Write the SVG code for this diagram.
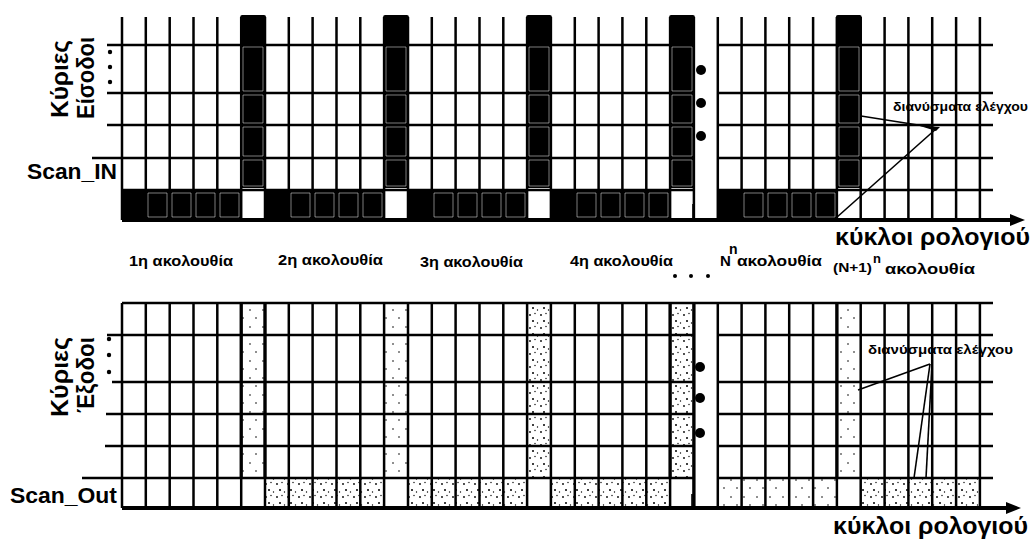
<svg xmlns="http://www.w3.org/2000/svg" width="1032" height="547" viewBox="0 0 1032 547">
<style>
  .t { font-family: "Liberation Sans", Arial, sans-serif; font-weight: bold; fill: #000; }
  .grid { stroke: #000; stroke-width: 2.5; fill: none; }
  .axis { stroke: #000; stroke-width: 4; fill: none; }
  .blk { fill: #000; }
  .inset { fill: none; stroke: #fff; stroke-width: 0.9; stroke-opacity: 0.55; }
  .thin { stroke: #000; stroke-width: 1.6; fill: none; }
  .spk { fill: url(#speck); }
  .spk2 { fill: url(#speck2); }
</style>
<defs>
  <pattern id="speck" width="11" height="13" patternUnits="userSpaceOnUse">
    <rect width="11" height="13" fill="#fff"/>
    <circle cx="2" cy="3" r="0.9" fill="#000"/>
    <circle cx="7" cy="1.5" r="0.7" fill="#000"/>
    <circle cx="5" cy="9" r="1" fill="#000"/>
    <circle cx="9.5" cy="11" r="0.7" fill="#000"/>
  </pattern>
  <pattern id="speck2" width="13" height="17" patternUnits="userSpaceOnUse">
    <rect width="13" height="17" fill="#fff"/>
    <circle cx="3" cy="4" r="0.8" fill="#000"/>
    <circle cx="9" cy="12" r="0.8" fill="#000"/>
  </pattern>
  <marker id="arr" markerWidth="16" markerHeight="14" refX="2" refY="7" orient="auto" markerUnits="userSpaceOnUse">
    <polygon points="0,1 15,7 0,13" fill="#000"/>
  </marker>
</defs>

<!-- ================= TOP CHART ================= -->
<g id="top-chart">
  <!-- vertical grid lines -->
  <path class="grid" d="M122 17V220 M145.8 17V220 M169.7 17V220 M193.5 17V220 M217.3 17V220 M241.2 17V220 M265 17V220 M288.8 17V220 M312.6 17V220 M336.5 17V220 M360.3 17V220 M384.1 17V220 M408 17V220 M431.8 17V220 M455.6 17V220 M479.5 17V220 M503.3 17V220 M527.1 17V220 M550.9 17V220 M574.8 17V220 M598.6 17V220 M622.4 17V220 M646.3 17V220 M670.1 17V220 M693.9 17V220 M717.8 17V220 M741.6 17V220 M765.4 17V220 M789.2 17V220 M813.1 17V220 M836.9 17V220 M860.7 17V220 M884.6 17V220 M908.4 17V220 M932.2 17V220 M956.1 17V220 M979.9 17V220"/>
  <!-- horizontal grid lines -->
  <path class="grid" d="M107 45H694 M718 45H993 M107 93H694 M718 93H993 M107 125H694 M718 125H993 M92 158H694 M718 158H993 M122 190H694 M718 190H993"/>

  <!-- Scan_IN row black cells -->
  <g id="scanin-cells">
    <rect class="blk" x="122" y="189" width="119.2" height="31"/>
    <rect class="blk" x="265" y="189" width="119.1" height="31"/>
    <rect class="blk" x="408" y="189" width="119.1" height="31"/>
    <rect class="blk" x="550.9" y="189" width="119.2" height="31"/>
    <rect class="blk" x="717.8" y="189" width="119.1" height="31"/>
    <path class="inset" d="M148 193h19v24h-19z M172 193h19v24h-19z M196 193h19v24h-19z M220 193h19v24h-19z M291 193h19v24h-19z M315 193h19v24h-19z M339 193h19v24h-19z M363 193h19v24h-19z M434 193h19v24h-19z M458 193h19v24h-19z M482 193h19v24h-19z M506 193h19v24h-19z M577 193h19v24h-19z M601 193h19v24h-19z M625 193h19v24h-19z M649 193h19v24h-19z M744 193h19v24h-19z M768 193h19v24h-19z M792 193h19v24h-19z M816 193h19v24h-19z"/>
  </g>

  <!-- tall black columns (test vectors) -->
  <g id="vector-columns">
    <rect class="blk" x="240.2" y="15" width="25.8" height="173" rx="2"/>
    <rect class="blk" x="383.1" y="15" width="25.8" height="173" rx="2"/>
    <rect class="blk" x="526.1" y="15" width="25.8" height="173" rx="2"/>
    <rect class="blk" x="669.1" y="15" width="25.8" height="173" rx="2"/>
    <rect class="blk" x="835.9" y="15" width="25.8" height="173" rx="2"/>
    <path class="inset" d="M243 47h20v44h-20z M243 95h20v28h-20z M243 127h20v29h-20z M243 160h20v26h-20z
      M386 47h20v44h-20z M386 95h20v28h-20z M386 127h20v29h-20z M386 160h20v26h-20z
      M529 47h20v44h-20z M529 95h20v28h-20z M529 127h20v29h-20z M529 160h20v26h-20z
      M672 47h20v44h-20z M672 95h20v28h-20z M672 127h20v29h-20z M672 160h20v26h-20z
      M839 47h20v44h-20z M839 95h20v28h-20z M839 127h20v29h-20z M839 160h20v26h-20z"/>
  </g>

  <!-- white gap column -->
  <rect x="696" y="10" width="20" height="208" fill="#fff"/>
  <line class="thin" x1="693" y1="204" x2="693" y2="218"/>
  <g id="top-gap-dots">
    <circle cx="701" cy="70" r="5"/>
    <circle cx="701" cy="103" r="5"/>
    <circle cx="701" cy="136" r="5"/>
  </g>
  <g id="top-left-dots">
    <circle cx="110" cy="52" r="2.2"/>
    <circle cx="110" cy="67" r="2.2"/>
    <circle cx="110" cy="82" r="2.2"/>
  </g>
</g>

<!-- ================= BOTTOM CHART ================= -->
<g id="bottom-chart">
  <!-- speckled cells (captured outputs) -->
  <g id="speckled">
    <rect class="spk2" x="241.2" y="303" width="23.8" height="175"/>
    <rect class="spk2" x="384.1" y="303" width="23.9" height="175"/>
    <rect class="spk" x="527.1" y="303" width="23.8" height="175"/>
    <rect class="spk" x="670.1" y="303" width="23.8" height="175"/>
    <rect class="spk2" x="836.9" y="303" width="23.8" height="175"/>
    <rect class="spk" x="265" y="478" width="119.1" height="30"/>
    <rect class="spk" x="408" y="478" width="119.1" height="30"/>
    <rect class="spk" x="550.9" y="478" width="119.2" height="30"/>
    <rect class="spk2" x="717.8" y="478" width="119.1" height="30"/>
    <rect class="spk" x="860.7" y="478" width="119.2" height="30"/>
  </g>
  <!-- vertical grid lines -->
  <path class="grid" d="M122 303V508 M145.8 303V508 M169.7 303V508 M193.5 303V508 M217.3 303V508 M241.2 303V508 M265 303V508 M288.8 303V508 M312.6 303V508 M336.5 303V508 M360.3 303V508 M384.1 303V508 M408 303V508 M431.8 303V508 M455.6 303V508 M479.5 303V508 M503.3 303V508 M527.1 303V508 M550.9 303V508 M574.8 303V508 M598.6 303V508 M622.4 303V508 M646.3 303V508 M670.1 303V508 M693.9 303V508 M717.8 303V508 M741.6 303V508 M765.4 303V508 M789.2 303V508 M813.1 303V508 M836.9 303V508 M860.7 303V508 M884.6 303V508 M908.4 303V508 M932.2 303V508 M956.1 303V508 M979.9 303V508"/>
  <!-- thicker borders on capture columns -->
  <path class="grid" style="stroke-width:3.2" d="M241.2 303V478 M265 303V478 M670.1 303V478 M693.9 303V508 M836.9 303V478"/>
  <!-- horizontal grid lines -->
  <path class="grid" d="M122 303H993 M107 335H694 M718 335H993 M112 382H694 M718 382H993 M106 414H694 M718 414H993 M105 446H694 M718 446H993 M82 478H694 M718 478H993"/>
  <line class="thin" x1="692" y1="494" x2="692" y2="507"/>
  <g id="bottom-gap-dots">
    <circle cx="700" cy="367" r="5"/>
    <circle cx="700" cy="398" r="5"/>
    <circle cx="700" cy="433" r="5"/>
  </g>
  <g id="bottom-left-dots">
    <circle cx="109" cy="339" r="2.2"/>
    <circle cx="109" cy="355" r="2.2"/>
    <circle cx="109" cy="372" r="2.2"/>
  </g>
</g>

<!-- ================= CONNECTORS ================= -->
<g id="connectors">
  <line class="axis" x1="122" y1="220" x2="1012" y2="220" marker-end="url(#arr)"/>
  <line class="axis" x1="122" y1="508" x2="1008" y2="508" marker-end="url(#arr)"/>
  <!-- top callout -->
  <line class="thin" x1="861" y1="116" x2="937" y2="128"/>
  <line class="thin" x1="937" y1="128" x2="836" y2="218"/>
  <polygon points="920,126 940,127 936,131" fill="#000"/>
  <!-- bottom callout -->
  <line class="thin" x1="930" y1="364" x2="858" y2="390"/>
  <line class="thin" x1="930" y1="364" x2="914" y2="478"/>
  <line class="thin" x1="932" y1="364" x2="926" y2="478"/>
</g>

<!-- ================= LABELS ================= -->
<g id="labels">
  <text class="t" font-size="24" transform="translate(68,79) rotate(-90)" text-anchor="middle" textLength="78" lengthAdjust="spacingAndGlyphs">Κύριες</text>
  <text class="t" font-size="24" transform="translate(94,78) rotate(-90)" text-anchor="middle" textLength="82" lengthAdjust="spacingAndGlyphs">Είσοδοι</text>
  <text class="t" font-size="22" x="27" y="179" textLength="90" lengthAdjust="spacingAndGlyphs">Scan_IN</text>

  <text class="t" font-size="24" transform="translate(68,377) rotate(-90)" text-anchor="middle" textLength="80" lengthAdjust="spacingAndGlyphs">Κύριες</text>
  <text class="t" font-size="24" transform="translate(94,375) rotate(-90)" text-anchor="middle" textLength="76" lengthAdjust="spacingAndGlyphs">Έξοδοι</text>
  <text class="t" font-size="22" x="10" y="503" textLength="107" lengthAdjust="spacingAndGlyphs">Scan_Out</text>

  <text class="t" font-size="15" x="129" y="266" textLength="104" lengthAdjust="spacingAndGlyphs">1η ακολουθία</text>
  <text class="t" font-size="15" x="278" y="265" textLength="105" lengthAdjust="spacingAndGlyphs">2η ακολουθία</text>
  <text class="t" font-size="15" x="420" y="267" textLength="103" lengthAdjust="spacingAndGlyphs">3η ακολουθία</text>
  <text class="t" font-size="15" x="570" y="266" textLength="103" lengthAdjust="spacingAndGlyphs">4η ακολουθία</text>
  <g id="seq-dots">
    <circle cx="675" cy="276" r="2"/>
    <circle cx="691" cy="276" r="2"/>
    <circle cx="708" cy="276" r="2"/>
  </g>
  <text class="t" font-size="15" x="720" y="266">N</text>
  <text class="t" font-size="14" x="729" y="254">n</text>
  <text class="t" font-size="15" x="737" y="266" textLength="85" lengthAdjust="spacingAndGlyphs">ακολουθία</text>
  <text class="t" font-size="13" x="833" y="272" textLength="39" lengthAdjust="spacingAndGlyphs">(N+1)</text>
  <text class="t" font-size="13" x="873" y="263">n</text>
  <text class="t" font-size="14" x="885" y="274" textLength="90" lengthAdjust="spacingAndGlyphs">ακολουθία</text>

  <text class="t" font-size="23" x="835" y="245" textLength="195" lengthAdjust="spacingAndGlyphs">κύκλοι ρολογιού</text>
  <text class="t" font-size="23" x="833" y="534" textLength="195" lengthAdjust="spacingAndGlyphs">κύκλοι ρολογιού</text>

  <text class="t" font-size="13" x="893" y="111" textLength="135" lengthAdjust="spacingAndGlyphs">διανύσματα ελέγχου</text>
  <text class="t" font-size="13" x="868" y="354" textLength="145" lengthAdjust="spacingAndGlyphs">διανύσματα ελέγχου</text>
</g>
</svg>
